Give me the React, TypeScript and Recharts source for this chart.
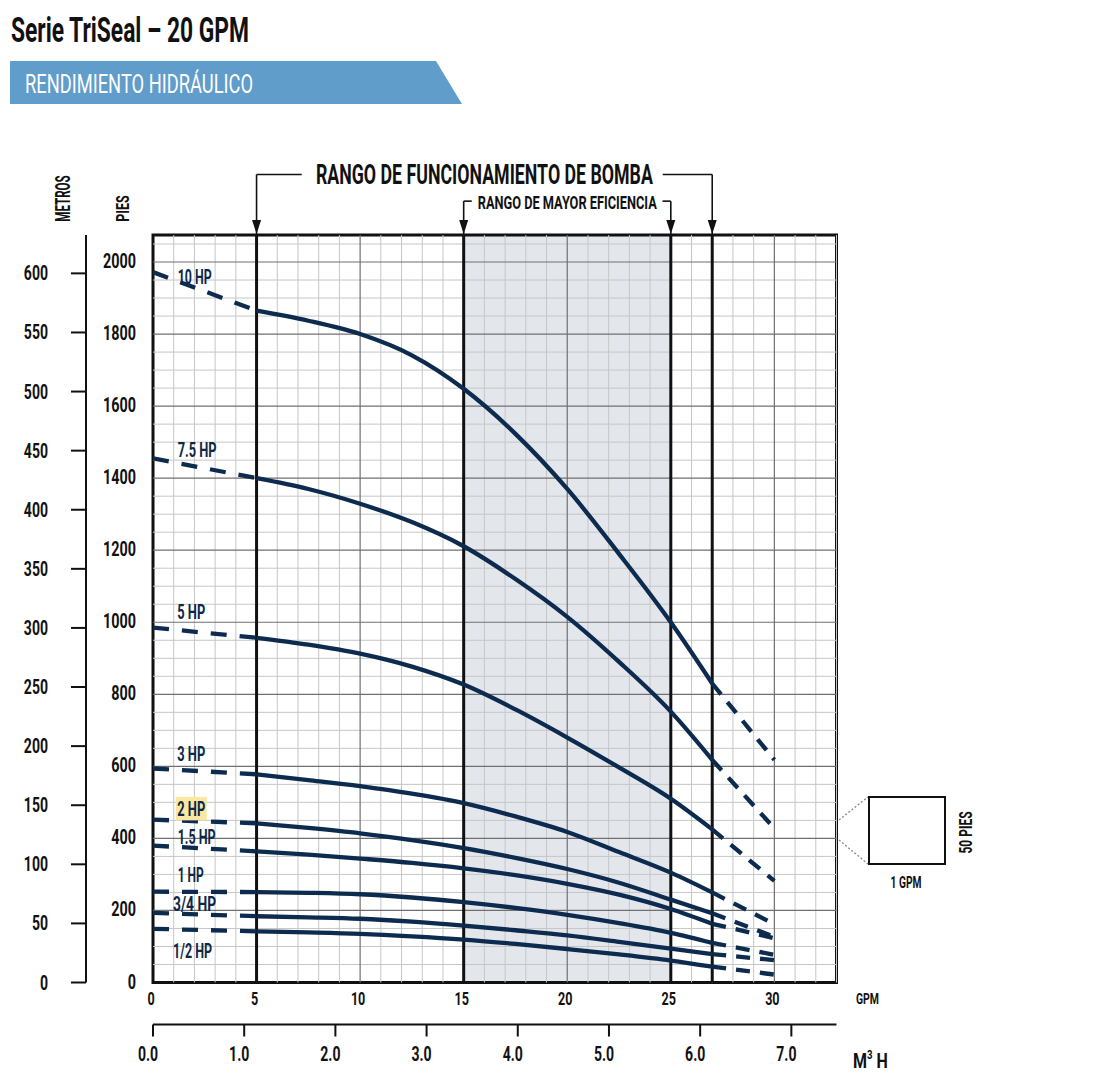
import React from 'react';
import { LineChart, Line, XAxis, YAxis, ReferenceLine, ReferenceArea, ReferenceDot } from 'recharts';

// ---- scales / constants ----
const FT_MAX = 2075;
const GPM_MAX = 33;
const GPM_PER_M3H = 4.4029;
const M_PER_FT = 0.3048;

// ---- data ----
const flowGpm = [0, 5, 7.5, 10, 12.5, 15, 17.5, 20, 22.5, 25, 27, 30];
const hp10 = [1972, 1865, 1837, 1800, 1741, 1648, 1523, 1370, 1190, 1000, 830, 618];
const hp75 = [1455, 1400, 1370, 1329, 1278, 1211, 1120, 1015, 890, 752, 618, 428];
const hp5 = [985, 957, 938, 913, 877, 827, 758, 680, 597, 510, 425, 282];
const hp3 = [594, 578, 562, 545, 524, 498, 461, 418, 362, 305, 250, 162];
const hp2 = [452, 442, 429, 414, 395, 373, 346, 315, 277, 230, 192, 127];
const hp15 = [380, 364, 355, 344, 332, 317, 298, 274, 244, 204, 163, 123];
const hp1 = [252, 251, 249, 245, 236, 223, 207, 188, 165, 138, 110, 77];
const hp34 = [193, 184, 181, 177, 169, 158, 145, 131, 113, 94, 79, 62];
const hp12 = [149, 142, 139, 135, 128, 119, 107, 93, 78, 61, 44, 22];

const curveNames = ['10 HP', '7.5 HP', '5 HP', '3 HP', '2 HP', '1.5 HP', '1 HP', '3/4 HP', '1/2 HP'];
const curveValues = [hp10, hp75, hp5, hp3, hp2, hp15, hp1, hp34, hp12];
const labelGpm = [1.19, 1.19, 1.17, 1.17, 1.17, 1.19, 1.19, 0.97, 0.97];
const labelFt = [1958, 1478, 1030, 634, 482, 404, 298, 218, 87];
const labelLen = [34, 39, 28, 28, 28, 38, 26, 43, 39];

const gpmTicks = [0, 5, 10, 15, 20, 25, 30];
const m3hTicks = [0, 1, 2, 3, 4, 5, 6, 7];
const ftTicks = [0, 200, 400, 600, 800, 1000, 1200, 1400, 1600, 1800, 2000];
const mTicks = [0, 50, 100, 150, 200, 250, 300, 350, 400, 450, 500, 550, 600];

const rangeLines = [5, 15, 25, 27];
const pumpRange = [5, 27];
const bestRange = [15, 25];
const bracketPumpFt = 2243;
const bracketBestFt = 2169;

const minorGpm: number[] = [];
for (let g = 1; g <= GPM_MAX; g++) if (g % 5 !== 0) minorGpm.push(g);
const majorGpm = [10, 20, 30];
const minorFt: number[] = [];
for (let f = 50; f < FT_MAX; f += 50) if (f % 200 !== 0) minorFt.push(f);
const majorFt = [200, 400, 600, 800, 1000, 1200, 1400, 1600, 1800, 2000];

// span used only to bind the secondary (metric) axes
const metricSpan = [
  { x: 0, y: 0 },
  { x: GPM_MAX / GPM_PER_M3H, y: FT_MAX * M_PER_FT },
];

// ---- styles ----
const FONT = "Roboto, 'Open Sans', 'DejaVu Sans', sans-serif";
const NAVY = '#0c2b4e';
const MINOR = '#c6c6c6';
const MAJOR = '#707070';

const seg = (vals: number[], lo: number, hi: number) =>
  flowGpm.map((x, i) => ({ x, y: vals[i] })).filter((p) => p.x >= lo && p.x <= hi);

const CText = (props: any) => {
  const { x, y, size, sx = 1, anchor = 'start', weight = 'bold', fill = '#111', children } = props;
  return (
    <text
      transform={`translate(${x},${y}) scale(${sx},1)`}
      textAnchor={anchor}
      fontSize={size}
      fontWeight={weight}
      fontFamily={FONT}
      fill={fill}
    >
      {children}
    </text>
  );
};

const FtTick = (p: any) => (
  <CText x={p.x - 17} y={p.y + 6} size={20} sx={0.72} anchor="end">
    {p.payload.value}
  </CText>
);
const MTick = (p: any) => (
  <CText x={p.x - 23} y={p.y + 7} size={19.5} sx={0.72} anchor="end">
    {p.payload.value}
  </CText>
);
const GpmTick = (p: any) => (
  <CText x={p.x - 2} y={p.y + 22.5} size={18} sx={0.7} anchor="middle">
    {p.payload.value}
  </CText>
);
const M3Tick = (p: any) => (
  <CText x={p.x - 5} y={p.y + 24} size={19.5} sx={0.72} anchor="middle">
    {Number(p.payload.value).toFixed(1)}
  </CText>
);

const Arrow = (p: any) => (
  <polygon points={`${p.cx - 4.5},${p.cy - 15} ${p.cx + 4.5},${p.cy - 15} ${p.cx},${p.cy - 1}`} fill="#111" />
);

const hpLabel = (name: string, len: number) => (p: any) => (
  <g>
    {name === '2 HP' && <rect x={p.cx - 1.5} y={p.cy - 12} width={31} height={23.5} fill="#fbe7a1" />}
    <text
      x={p.cx}
      y={p.cy + 7.3}
      fontSize={20.5}
      fontWeight="bold"
      fontFamily={FONT}
      fill="#0d2847"
      textLength={len}
      lengthAdjust="spacingAndGlyphs"
    >
      {name}
    </text>
  </g>
);

const textShape = (txt: string, size: number, len: number, dy: number) => (p: any) => (
  <text
    x={p.cx}
    y={p.cy + dy}
    textAnchor="middle"
    fontSize={size}
    fontWeight="bold"
    fontFamily={FONT}
    fill="#111"
    textLength={len}
    lengthAdjust="spacingAndGlyphs"
  >
    {txt}
  </text>
);

export default function App() {
  const ax = { xAxisId: 'gpm', yAxisId: 'ft' };
  return (
    <div style={{ position: 'absolute', left: 0, top: 0, width: 1106, height: 1074, background: '#fff' }}>
      <LineChart width={1106} height={1074} margin={{ top: 235, right: 269.5, bottom: 9.5, left: 6 }}>
        <XAxis
          xAxisId="gpm"
          dataKey="x"
          type="number"
          domain={[0, GPM_MAX]}
          allowDataOverflow
          ticks={gpmTicks}
          interval={0}
          height={42}
          axisLine={false}
          tickLine={false}
          tickSize={0}
          tickMargin={0}
          tick={GpmTick}
        />
        <XAxis
          xAxisId="m3"
          dataKey="x"
          type="number"
          domain={[0, GPM_MAX / GPM_PER_M3H]}
          allowDataOverflow
          ticks={m3hTicks}
          interval={0}
          height={40}
          axisLine={{ stroke: '#111', strokeWidth: 2 }}
          tickLine={{ stroke: '#111', strokeWidth: 2 }}
          tickSize={12}
          tickMargin={0}
          tick={M3Tick}
        />
        <YAxis
          yAxisId="ft"
          type="number"
          domain={[0, FT_MAX]}
          allowDataOverflow
          ticks={ftTicks}
          interval={0}
          width={67}
          axisLine={false}
          tickLine={false}
          tickSize={0}
          tickMargin={0}
          tick={FtTick}
        />
        <YAxis
          yAxisId="m"
          type="number"
          domain={[0, FT_MAX * M_PER_FT]}
          allowDataOverflow
          ticks={mTicks}
          interval={0}
          width={80}
          axisLine={{ stroke: '#111', strokeWidth: 2 }}
          tickLine={{ stroke: '#111', strokeWidth: 2 }}
          tickSize={15}
          tickMargin={0}
          tick={MTick}
        />

        <Line xAxisId="m3" yAxisId="m" data={metricSpan} dataKey="y" stroke="none" dot={false} activeDot={false} isAnimationActive={false} legendType="none" />

        <ReferenceArea {...ax} x1={bestRange[0]} x2={bestRange[1]} y1={0} y2={FT_MAX} fill="#e3e7ec" fillOpacity={1} stroke="none" />

        {minorGpm.map((g) => (
          <ReferenceLine key={'mg' + g} {...ax} x={g} stroke={MINOR} strokeWidth={1} />
        ))}
        {minorFt.map((f) => (
          <ReferenceLine key={'mf' + f} {...ax} y={f} stroke={MINOR} strokeWidth={1} />
        ))}
        {majorGpm.map((g) => (
          <ReferenceLine key={'Mg' + g} {...ax} x={g} stroke={MAJOR} strokeWidth={1.2} />
        ))}
        {majorFt.map((f) => (
          <ReferenceLine key={'Mf' + f} {...ax} y={f} stroke={MAJOR} strokeWidth={1.2} />
        ))}

        <ReferenceArea {...ax} x1={0} x2={GPM_MAX} y1={0} y2={FT_MAX} fill="none" stroke="#111" strokeWidth={3} ifOverflow="visible" />

        {rangeLines.map((g) => (
          <ReferenceLine key={'r' + g} {...ax} x={g} stroke="#111" strokeWidth={3} />
        ))}

        {/* brackets above the plot */}
        {pumpRange.map((g) => (
          <ReferenceLine key={'pv' + g} {...ax} segment={[{ x: g, y: FT_MAX }, { x: g, y: bracketPumpFt }]} stroke="#111" strokeWidth={1.6} ifOverflow="visible" />
        ))}
        <ReferenceLine {...ax} segment={[{ x: pumpRange[0], y: bracketPumpFt }, { x: 7.18, y: bracketPumpFt }]} stroke="#111" strokeWidth={1.6} ifOverflow="visible" />
        <ReferenceLine {...ax} segment={[{ x: 24.61, y: bracketPumpFt }, { x: pumpRange[1], y: bracketPumpFt }]} stroke="#111" strokeWidth={1.6} ifOverflow="visible" />
        {bestRange.map((g) => (
          <ReferenceLine key={'bv' + g} {...ax} segment={[{ x: g, y: FT_MAX }, { x: g, y: bracketBestFt }]} stroke="#111" strokeWidth={1.6} ifOverflow="visible" />
        ))}
        <ReferenceLine {...ax} segment={[{ x: bestRange[0], y: bracketBestFt }, { x: 15.39, y: bracketBestFt }]} stroke="#111" strokeWidth={1.6} ifOverflow="visible" />
        <ReferenceLine {...ax} segment={[{ x: 24.6, y: bracketBestFt }, { x: bestRange[1], y: bracketBestFt }]} stroke="#111" strokeWidth={1.6} ifOverflow="visible" />
        {rangeLines.map((g) => (
          <ReferenceDot key={'a' + g} {...ax} x={g} y={FT_MAX} r={0} shape={Arrow} ifOverflow="visible" />
        ))}
        <ReferenceDot {...ax} x={16} y={bracketPumpFt} r={0} ifOverflow="visible" shape={textShape('RANGO DE FUNCIONAMIENTO DE BOMBA', 27.5, 337, 9.5)} />
        <ReferenceDot {...ax} x={20} y={bracketBestFt} r={0} ifOverflow="visible" shape={textShape('RANGO DE MAYOR EFICIENCIA', 18.5, 179, 7.5)} />

        {curveValues.map((vals, i) => (
          <Line key={'s' + i} {...ax} data={seg(vals, 0, 5)} dataKey="y" name={curveNames[i] + ' a'} type="monotone" stroke={NAVY} strokeWidth={4.3} strokeDasharray="16 13" dot={false} activeDot={false} isAnimationActive={false} />
        ))}
        {curveValues.map((vals, i) => (
          <Line key={'m' + i} {...ax} data={seg(vals, 5, 27)} dataKey="y" name={curveNames[i]} type="monotone" stroke={NAVY} strokeWidth={4.3} dot={false} activeDot={false} isAnimationActive={false} />
        ))}
        {curveValues.map((vals, i) => (
          <Line key={'e' + i} {...ax} data={seg(vals, 27, 30)} dataKey="y" name={curveNames[i] + ' b'} type="monotone" stroke={NAVY} strokeWidth={4.3} strokeDasharray="14 10" dot={false} activeDot={false} isAnimationActive={false} />
        ))}

        {curveNames.map((n, i) => (
          <ReferenceDot key={'l' + i} {...ax} x={labelGpm[i]} y={labelFt[i]} r={0} shape={hpLabel(n, labelLen[i])} ifOverflow="visible" />
        ))}
      </LineChart>

      <svg width={1106} height={1074} style={{ position: 'absolute', left: 0, top: 0, pointerEvents: 'none' }}>
        <text x={11} y={42} fontSize={35} fontWeight="bold" fontFamily={FONT} fill="#111" textLength={238} lengthAdjust="spacingAndGlyphs">
          Serie TriSeal – 20 GPM
        </text>
        <polygon points="10,61 436,61 462,104 10,104" fill="#609dca" />
        <text x={25} y={93} fontSize={26} fontFamily={FONT} fill="#fff" textLength={228} lengthAdjust="spacingAndGlyphs">
          RENDIMIENTO HIDRÁULICO
        </text>

        <text transform="translate(70,198.5) rotate(-90)" textAnchor="middle" fontSize={19.5} fontWeight="bold" fontFamily={FONT} fill="#111" textLength={46.5} lengthAdjust="spacingAndGlyphs">
          METROS
        </text>
        <text transform="translate(128.5,208.5) rotate(-90)" textAnchor="middle" fontSize={18} fontWeight="bold" fontFamily={FONT} fill="#111" textLength={26.5} lengthAdjust="spacingAndGlyphs">
          PIES
        </text>

        <text x={856} y={1004} fontSize={15.5} fontWeight="bold" fontFamily={FONT} fill="#111" textLength={23} lengthAdjust="spacingAndGlyphs">
          GPM
        </text>
        <g transform="translate(853,1068) scale(0.8,1)">
          <text x={0} y={0} fontSize={20} fontWeight="bold" fontFamily={FONT} fill="#111">
            M<tspan dy={-9} fontSize={12}>3</tspan>
            <tspan dy={9}> H</tspan>
          </text>
        </g>

        <line x1={839} y1={820} x2={868} y2={797} stroke="#8a8a8a" strokeWidth={1.3} strokeDasharray="2 2" />
        <line x1={839} y1={840} x2={868} y2={864} stroke="#8a8a8a" strokeWidth={1.3} strokeDasharray="2 2" />
        <rect x={869} y={797} width={76} height={67} fill="#fff" stroke="#111" strokeWidth={2} />
        <text x={906} y={888} textAnchor="middle" fontSize={16} fontWeight="bold" fontFamily={FONT} fill="#111" textLength={31} lengthAdjust="spacingAndGlyphs">
          1 GPM
        </text>
        <text transform="translate(971.5,832.5) rotate(-90)" textAnchor="middle" fontSize={18} fontWeight="bold" fontFamily={FONT} fill="#111" textLength={42} lengthAdjust="spacingAndGlyphs">
          50 PIES
        </text>
      </svg>
    </div>
  );
}
